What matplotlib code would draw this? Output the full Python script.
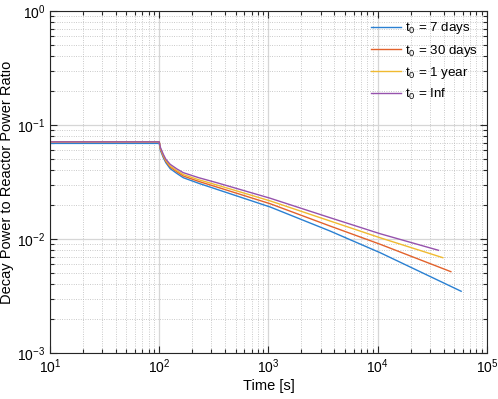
import matplotlib
matplotlib.use("Agg")
import matplotlib.pyplot as plt
from matplotlib.ticker import LogLocator, NullFormatter

plt.rcParams['font.family'] = ['Liberation Sans', 'DejaVu Sans']
plt.rcParams['mathtext.fontset'] = 'custom'
plt.rcParams['mathtext.rm'] = 'Liberation Sans'
plt.rcParams['mathtext.it'] = 'Liberation Sans'

labels = [r'$\mathregular{t_0}$ = 7 days', r'$\mathregular{t_0}$ = 30 days',
          r'$\mathregular{t_0}$ = 1 year', r'$\mathregular{t_0}$ = Inf']
colors = ['#2a80d2', '#e2622c', '#f0ba30', '#9652ad']

t_blue = [10, 100, 102.5, 109, 115, 126, 145, 166, 230, 336, 1035, 3660, 10500, 58000]
y_blue = [0.0690, 0.0690, 0.0600, 0.0517, 0.0467, 0.0414, 0.0376, 0.0345, 0.0308, 0.0273,
          0.0191, 0.01175, 0.00759, 0.00348]

t_orange = [10, 100, 102.5, 109, 115, 126, 145, 166, 230, 336, 1035, 3660, 10500, 46700]
y_orange = [0.0712, 0.0712, 0.0615, 0.0530, 0.0479, 0.0428, 0.0389, 0.0357, 0.0320, 0.0286,
            0.0204, 0.0130, 0.0090, 0.00517]

t_yellow = [10, 100, 102.5, 109, 115, 126, 145, 166, 230, 336, 1035, 3660, 10500, 39400]
y_yellow = [0.0712, 0.0712, 0.0625, 0.0540, 0.0488, 0.0437, 0.0398, 0.0368, 0.0331, 0.0298,
            0.0216, 0.01439, 0.01026, 0.00686]

t_purple = [10, 100, 102.5, 109, 115, 126, 145, 166, 230, 336, 1035, 3660, 10500, 36000]
y_purple = [0.0712, 0.0712, 0.0635, 0.0553, 0.0500, 0.0452, 0.0412, 0.0382, 0.0345, 0.0312,
            0.0228, 0.01538, 0.01113, 0.00796]

series = [(t_blue, y_blue), (t_orange, y_orange), (t_yellow, y_yellow), (t_purple, y_purple)]

fig = plt.figure(figsize=(4.98, 3.99), dpi=100)
ax = fig.add_axes([0.1004, 0.1153, 0.8775, 0.857])

for (t, y), c, lab in zip(series, colors, labels):
    ax.plot(t, y, color=c, lw=1.0, label=lab)

ax.set_xscale('log')
ax.set_yscale('log')
ax.set_xlim(10, 1e5)
ax.set_ylim(1e-3, 1)

ax.xaxis.set_minor_locator(LogLocator(base=10, subs=range(2, 10), numticks=20))
ax.yaxis.set_minor_locator(LogLocator(base=10, subs=range(2, 10), numticks=20))
ax.xaxis.set_minor_formatter(NullFormatter())
ax.yaxis.set_minor_formatter(NullFormatter())

ax.grid(True, which='major', color='#d6d6d6', lw=0.9, ls='-')
ax.grid(True, which='minor', color='#b8b8b8', lw=0.6, ls=(0, (1, 1.8)))
ax.set_axisbelow(True)

ax.tick_params(which='both', direction='in', top=True, right=True, labelsize=10, width=0.8, color='#262626')
ax.tick_params(which='major', length=5)
ax.tick_params(which='minor', length=3)
for s in ax.spines.values():
    s.set_color('#262626')
    s.set_linewidth(0.8)

ax.set_xlabel('Time [s]', fontsize=10.5, labelpad=2)
ax.set_ylabel('Decay Power to Reactor Power Ratio', fontsize=10.5)
ax.yaxis.set_label_coords(-0.082, 0.5)

leg = ax.legend(loc='upper right', frameon=False, fontsize=9.6, handlelength=2.3,
                handletextpad=0.25, labelspacing=0.46, borderaxespad=0.3)

fig.savefig('out.png', dpi=100)
